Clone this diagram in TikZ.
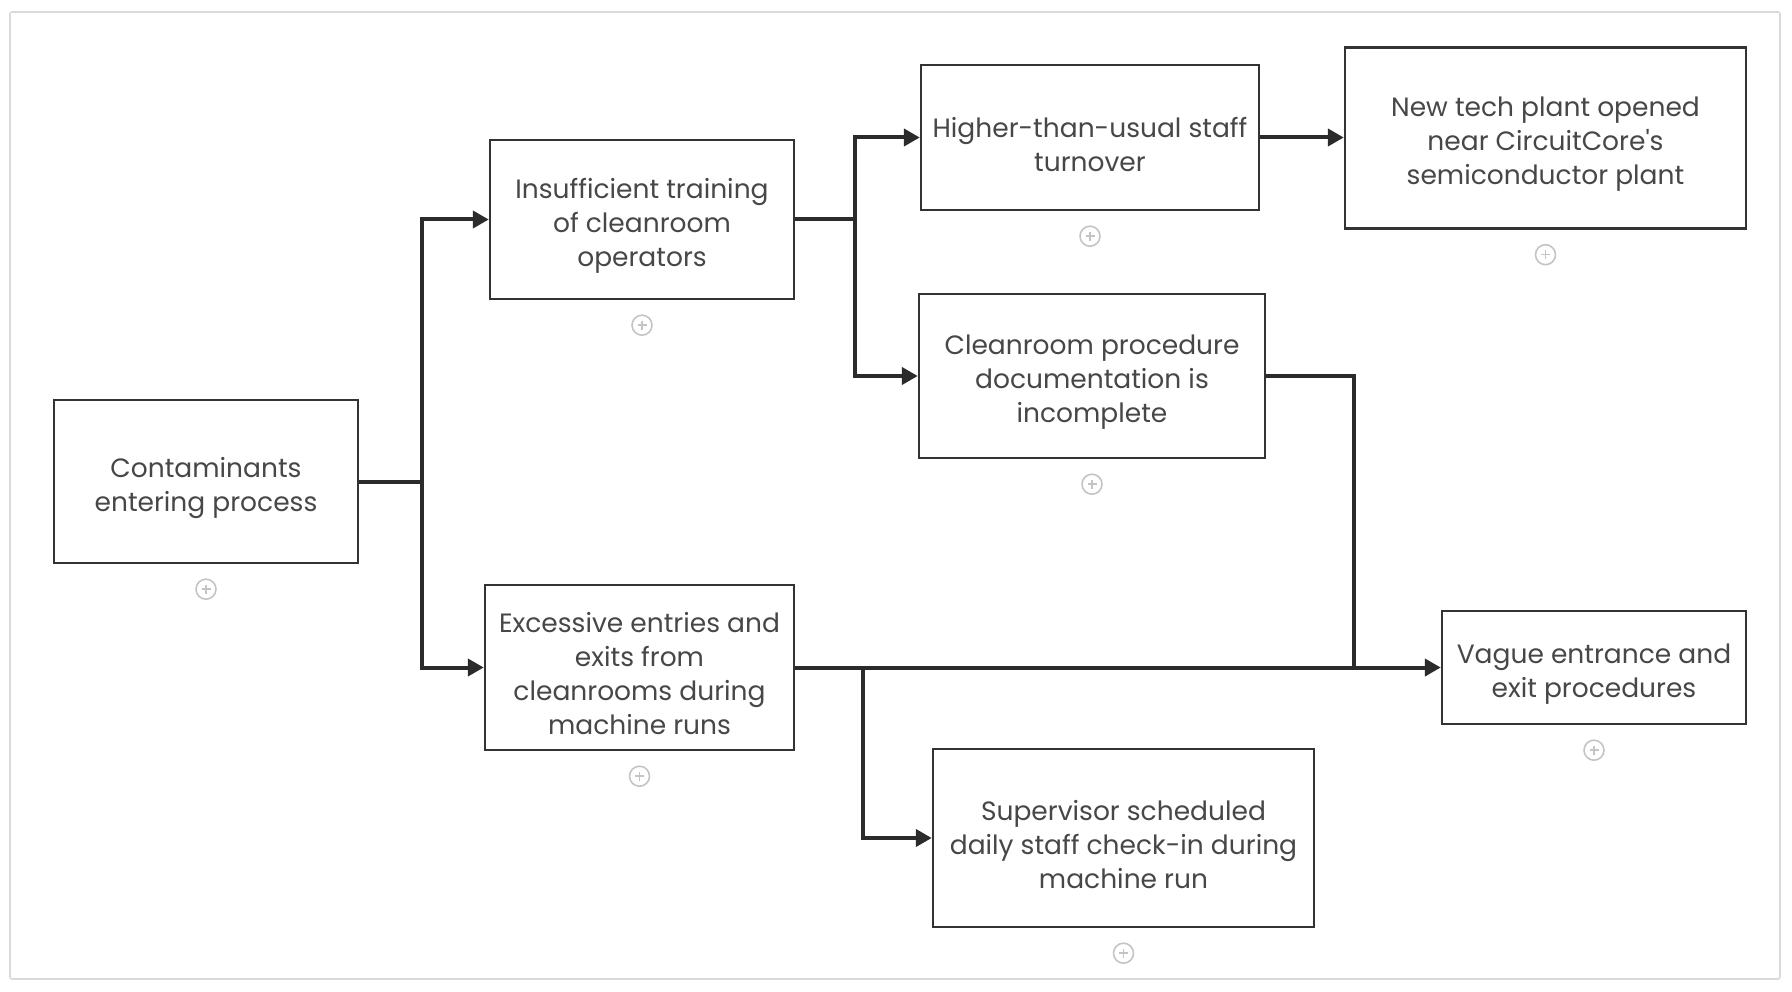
\documentclass[tikz,border=0pt]{standalone}
\usepackage{fontspec}
\setmainfont{Poppins}[Ligatures=TeXOff]
\usetikzlibrary{arrows.meta}
\definecolor{txt}{HTML}{474747}
\definecolor{edge}{HTML}{333333}
\definecolor{conn}{HTML}{2B2B2B}
\definecolor{frame}{HTML}{D9D9D9}
\definecolor{icon}{HTML}{C4C4C4}
\tikzset{
  box/.style={draw=edge, line width=2.4pt, fill=white, inner sep=0pt},
  lbl/.style={align=center, text=txt, font=\fontsize{26.5}{34}\selectfont, inner sep=0pt},
  link/.style={draw=conn, line width=4pt, -{Triangle[length=16pt,width=17pt]}},
  plainlink/.style={draw=conn, line width=4pt},
  plusicon/.style={circle, draw=icon, line width=1.6pt, minimum size=20pt, inner sep=0pt,
    path picture={\draw[icon, line width=1.6pt] ([xshift=-4.5pt]path picture bounding box.center) -- ([xshift=4.5pt]path picture bounding box.center);
                  \draw[icon, line width=1.6pt] ([yshift=-4.5pt]path picture bounding box.center) -- ([yshift=4.5pt]path picture bounding box.center);}}
}
\begin{document}
\begin{tikzpicture}[x=1pt,y=-1pt]
\useasboundingbox (0,0) rectangle (1792,992);
\draw[frame, line width=1.6pt, rounded corners=2pt] (10,12) rectangle (1780,979);

\node[box, minimum width=304pt, minimum height=163pt] (A) at (206,481.5) {};
\node[box, minimum width=304pt, minimum height=159pt] (B) at (642,219.5) {};
\node[box, minimum width=338pt, minimum height=145pt] (C) at (1090,137.5) {};
\node[box, minimum width=401pt, minimum height=181pt] (D) at (1545.5,138) {};
\node[box, minimum width=346pt, minimum height=164pt] (E) at (1092,376) {};
\node[box, minimum width=309pt, minimum height=165pt] (F) at (639.5,667.5) {};
\node[box, minimum width=304pt, minimum height=113pt] (G) at (1594,667.5) {};
\node[box, minimum width=381pt, minimum height=178pt] (H) at (1123.5,838) {};

\node[lbl] (At) at ([yshift=-6.5pt]A.center) {Contaminants\\entering process};
\node[lbl] (Bt) at ([yshift=-6.5pt]B.center) {Insufficient training\\of cleanroom\\operators};
\node[lbl] (Ct) at ([yshift=-6.5pt]C.center) {Higher-than-usual staff\\turnover};
\node[lbl] (Dt) at ([yshift=-6.5pt]D.center) {New tech plant opened\\near CircuitCore's\\semiconductor plant};
\node[lbl] (Et) at ([yshift=-6.5pt]E.center) {Cleanroom procedure\\documentation is\\incomplete};
\node[lbl] (Ft) at ([yshift=-6.5pt]F.center) {Excessive entries and\\exits from\\cleanrooms during\\machine runs};
\node[lbl] (Gt) at ([yshift=-6.5pt]G.center) {Vague entrance and\\exit procedures};
\node[lbl] (Ht) at ([yshift=-6.5pt]H.center) {Supervisor scheduled\\daily staff check-in during\\machine run};

\foreach \n in {A,B,C,D,E,F,G,H}{
  \node[plusicon] (p\n) at ([yshift=-25pt]\n.south) {};
}

\coordinate (j1) at (422,481.5);
\coordinate (j2) at (855,219.5);
\coordinate (j3) at (863,667.5);
\coordinate (j4) at (1354,376);
\coordinate (j5) at (1354,667.5);

\draw[plainlink] (A.east) -- (j1);
\draw[link] (j1) |- (B.west);
\draw[link] (j1) |- (F.west);
\draw[plainlink] (B.east) -- (j2);
\draw[link] (j2) |- (C.west);
\draw[link] (j2) |- (E.west);
\draw[link] (C.east) -- (C.east -| D.west);
\draw[plainlink] (E.east) -- (j4) -- (j5);
\draw[link] (F.east) -- (G.west);
\draw[link] (j3) |- (H.west);
\end{tikzpicture}
\end{document}
